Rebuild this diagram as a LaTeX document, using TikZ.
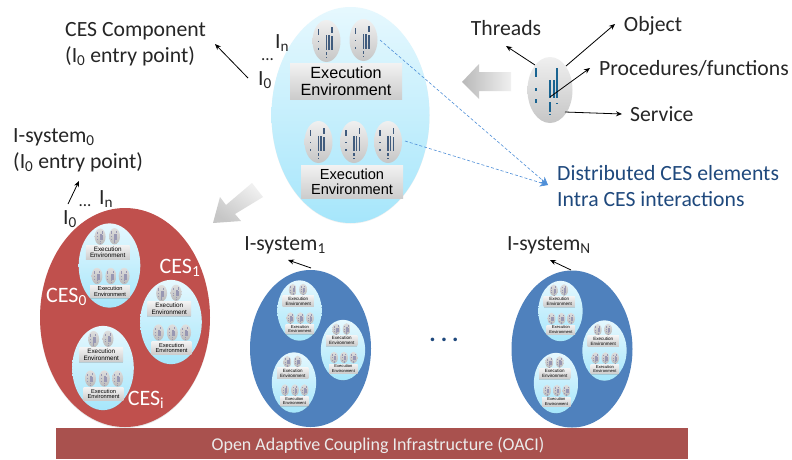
\documentclass[tikz,border=0pt]{standalone}
\usepackage{fontspec}
\setmainfont{Carlito}
\newfontfamily\arialf{Liberation Sans}
\usetikzlibrary{arrows.meta,shadows}
\definecolor{dkt}{HTML}{262626}
\definecolor{dblue}{HTML}{1F497D}
\definecolor{lnblue}{HTML}{4F8FD8}
\definecolor{redE}{HTML}{C0504D}
\definecolor{blueE}{HTML}{4F81BD}
\definecolor{barC}{HTML}{A9514E}
\definecolor{cesTop}{HTML}{E6F8FE}
\definecolor{cesBot}{HTML}{A6E6FB}
\tikzset{
  lbl/.style={font=\fontsize{21.7}{26}\selectfont,text=dkt,inner sep=0pt,align=left},
  wl/.style={font=\fontsize{22}{24}\selectfont,text=white,inner sep=0pt},
  blbl/.style={font=\fontsize{21.7}{25}\selectfont,text=dblue,inner sep=0pt,align=left},
  arr/.style={draw=black,line width=.8pt,-{Stealth[length=6pt,width=5pt]}},
  cesE/.style={top color=cesTop,bottom color=cesBot,draw=none,drop shadow={shadow xshift=0pt,shadow yshift=-.7pt,opacity=.12}},
  podE/.style={top color=gray!12,bottom color=gray!45,draw=none},
  eebox/.style={top color=gray!10,bottom color=gray!40,draw=none,minimum width=#1,inner sep=0pt,transform shape,text=black,align=center,drop shadow={shadow xshift=0pt,shadow yshift=-1pt,opacity=.3}},
  thrd/.style={fill=dblue!65!gray,draw=none},
  minic/.style={transform shape,thrd/.style={fill=gray!85!blue!70!white,draw=none},podE/.style={top color=gray!25,bottom color=gray!55,draw=none}},
  pics/pod/.style={code={
    \shade[podE] (0,0) ellipse [x radius=14,y radius=21];
    \fill[thrd] (-8.8,-12.5) rectangle (-7.5,-6);
    \fill[thrd] (-8.8,-.5) rectangle (-7.5,1);
    \fill[thrd] (-8.8,7) rectangle (-7.5,9);
    \fill[thrd] (4.7,-14) rectangle (6,-8);
    \fill[thrd] (4.7,-5) rectangle (6,9);
    \fill[thrd] (1.7,-6) rectangle (3,9);
    \fill[thrd] (-.8,-6) rectangle (.5,9);
    \fill[thrd] (-.8,10.5) rectangle (.5,14);
    \fill[thrd] (-.8,16) rectangle (.5,17);
  }},
  pics/ces/.style={code={
    \shade[cesE] (0,0) ellipse [x radius=79,y radius=108];
    \pic at (-24,-74) {pod};
    \pic at (13,-75) {pod};
    \node[eebox=112pt,minimum height=36pt,font=\arialf\fontsize{16.2}{17.5}\selectfont] (-ee1) at (-4.5,-34) {Execution\\Environment};
    \pic at (-32,27) {pod};
    \pic at (3.5,27) {pod};
    \pic at (37.5,27) {pod};
    \node[eebox=102pt,minimum height=33pt,font=\arialf\fontsize{14.6}{15}\selectfont] (-ee2) at (1.5,66.5) {Execution\\Environment};
  }}
}
\begin{document}
\begin{tikzpicture}[x=1pt,y=-1pt]
\useasboundingbox (0,0) rectangle (792,459);
\fill[white] (0,0) rectangle (792,459);

% top CES
\pic (top) at (350.5,115) {ces};

% big arrows
\shade[left color=gray!55,right color=gray!12,draw=none]
 (462,82) -- (479,64) -- (479,72) -- (511,72) -- (511,91) -- (479,91) -- (479,99) -- cycle;
\shade[top color=gray!12,bottom color=gray!45,draw=none,shading angle=-35]
 (213,223) -- (220,197) -- (226,205) -- (252,183) -- (263,197) -- (235,214) -- (241,221) -- cycle;

% detail pod
\shade[podE] (550,90) ellipse [x radius=22.5,y radius=33];
\coordinate (dthr) at (535,65);
\coordinate (dobj) at (566,66);
\coordinate (dproc) at (550,97);
\coordinate (dserv) at (565,112);
\fill[dblue!85!cyan] (535,68) rectangle (537,77);
\fill[dblue!85!cyan] (535,88) rectangle (537,91);
\fill[dblue!85!cyan] (535,99) rectangle (537,103);
\fill[dblue!85!cyan] (556,68) rectangle (558,98);
\fill[dblue!85!cyan] (552.5,80) rectangle (554.5,98);
\fill[dblue!85!cyan] (549,80) rectangle (551,98);
\fill[dblue!85!cyan] (549,102) rectangle (551,112);
\fill[dblue!85!cyan] (549,113.5) rectangle (551,115);
\fill[dblue!85!cyan] (556,102.5) rectangle (558,104);

\node[lbl,anchor=center] (thr) at (506,28) {Threads};
\node[lbl,anchor=center] (obj) at (653,26) {Object};
\node[lbl,anchor=west] (proc) at (599,68) {Procedures/functions};
\node[lbl,anchor=west] (serv) at (630,114) {Service};
\draw[arr] (dthr) -- (506,46);
\draw[arr] (dobj) -- (615,24);
\draw[arr] (dproc) -- (590,68);
\draw[arr] (dserv) -- (622,114);

% blue text and dashed
\node[blbl,anchor=west] (dist) at (557,173) {Distributed CES elements};
\node[blbl,anchor=west] (intra) at (557,199) {Intra CES interactions};
\coordinate (tip) at (548,185);
\coordinate (d1) at (380,40);
\coordinate (d2) at (405,141);
\draw[lnblue,densely dashed,line width=.6pt,-{Stealth[length=8pt,width=8pt]}] (d1) -- (tip);
\draw[lnblue,densely dashed,line width=.6pt,-{Stealth[length=8pt,width=8pt]}] (d2) -- (tip);

% CES component labels
\node[lbl,anchor=north west] (comp) at (65,22.5) {CES Component\\(I$_{\mathrm{0}}$ entry point)};
\node[lbl,anchor=west] (in1) at (275,43) {I$_{\mathrm{n}}$};
\node[lbl,font=\fontsize{17}{18}\selectfont] (dots1) at (267.5,60) {...};
\node[lbl,anchor=west] (i01) at (258,80) {I$_{\mathrm{0}}$};
\coordinate (a1) at (248,78);
\draw[arr] (a1) -- (215,44);

% red I-system
\node[lbl,anchor=north west] (isys0) at (13,128.5) {I-system$_{\mathrm{0}}$\\(I$_{\mathrm{0}}$ entry point)};
\node[lbl,anchor=west] (i02) at (63,219) {I$_{\mathrm{0}}$};
\node[lbl,font=\fontsize{17}{18}\selectfont] (dots2) at (85,206) {...};
\node[lbl,anchor=west] (in2) at (99,199) {I$_{\mathrm{n}}$};
\coordinate (a2) at (68,204);
\draw[arr] (a2) -- (79,181);

\fill[redE,drop shadow={shadow xshift=0pt,shadow yshift=-1pt,opacity=.2}] (125,317.5) ellipse [x radius=85,y radius=109.5];
\pic (r0) [scale=.39,minic] at (109.5,265.5) {ces};
\pic (r1) [scale=.39,minic] at (171,322) {ces};
\pic (r2) [scale=.39,minic] at (103,368) {ces};
\node[wl] (c0) at (66.5,297) {CES$_{\mathrm{0}}$};
\node[wl] (c1) at (180,268) {CES$_{\mathrm{1}}$};
\node[wl] (ci) at (146,400) {CES$_{\mathrm{i}}$};

% blue I-system 1
\fill[blueE] (310.5,348.5) ellipse [x radius=60.5,y radius=78.5];
\pic (b0) [scale=.28,minic] at (299.5,310.5) {ces};
\pic (b1) [scale=.28,minic] at (343,350) {ces};
\pic (b2) [scale=.28,minic] at (294,382.5) {ces};
\node[lbl,anchor=center] (isys1) at (285,245) {I-system$_{\mathrm{1}}$};
\coordinate (a3) at (311,268);
\draw[arr] (a3) -- (288,260);

% dots
\node[inner sep=0pt,font=\fontsize{24}{24}\selectfont\bfseries,text=dblue] (gap) at (444,340) {.\hspace{5pt}.\hspace{5pt}.};

% blue I-system N
\fill[blueE] (572,349) ellipse [x radius=60.5,y radius=78.5];
\pic (n0) [scale=.28,minic] at (560.5,311) {ces};
\pic (n1) [scale=.28,minic] at (604.5,350.5) {ces};
\pic (n2) [scale=.28,minic] at (556,383) {ces};
\node[lbl,anchor=center] (isysn) at (549,245) {I-system$_{\mathrm{N}}$};
\coordinate (a4) at (571,270);
\draw[arr] (a4) -- (550,260);

% bar
\fill[barC] (56,428) rectangle (688,459);
\node[font=\fontsize{18}{20}\selectfont,text=white!92!black,inner sep=0pt] (oaci) at (378,445) {Open Adaptive Coupling Infrastructure (OACI)};
\end{tikzpicture}
\end{document}
